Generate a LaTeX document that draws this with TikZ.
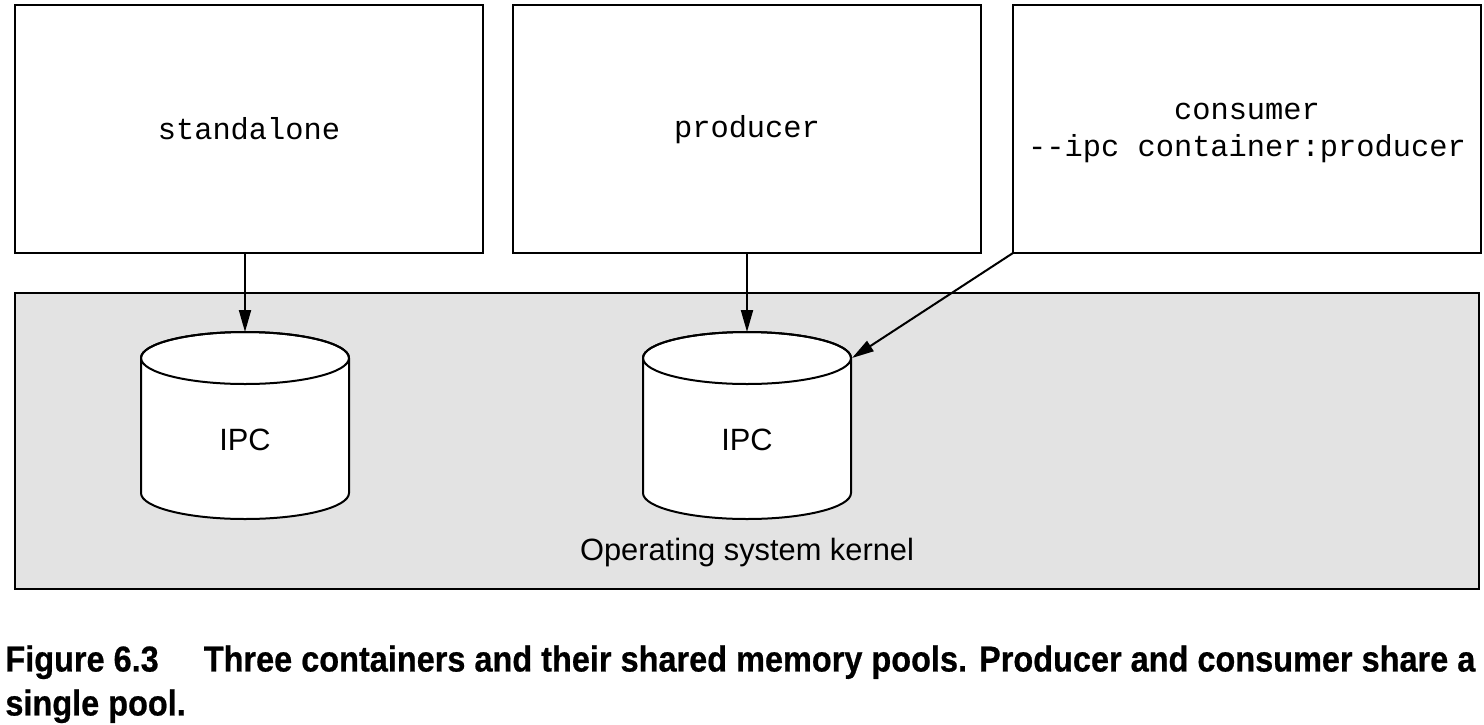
\documentclass[tikz,border=0pt]{standalone}
\usepackage{fontspec}
\setmainfont{Liberation Sans}
\setmonofont{Liberation Mono}
\newfontfamily\capfont[FakeStretch=0.902,FakeBold=0.6]{Liberation Sans}
\usetikzlibrary{arrows.meta}
\begin{document}
\begin{tikzpicture}[x=0.5pt,y=-0.5pt,
  boxst/.style={draw,line width=1pt,fill=white},
  conn/.style={line width=1pt,-{Triangle[length=11pt,width=6pt]}},
  monotext/.style={font=\fontsize{15.2}{18.5}\selectfont\ttfamily,align=center},
  sanstext/.style={font=\fontsize{15.4}{18}\selectfont},
  cyl/.style={draw,line width=1pt,fill=white}]
\useasboundingbox (0,0) rectangle (1484,724);
% kernel area
\draw[line width=1pt,fill=black!11] (15,293) rectangle (1479,589);
\node[sanstext] (kern) at (747,553) {Operating system kernel};
% container boxes
\draw[boxst] (15,5) rectangle (483,253);
\draw[boxst] (513,5) rectangle (981,253);
\draw[boxst] (1013,5) rectangle (1481,253);
\node[monotext] (sa) at (249,129) {standalone};
\node[monotext] (pr) at (747,130) {producer};
\node[monotext] (co) at (1247,133) {consumer\\--ipc container:producer};
\coordinate (saB) at (245,253);
\coordinate (prB) at (747,253);
\coordinate (coB) at (1013,253);
% cylinders
\foreach \cx/\nm in {245/c1,747/c2}{
  \path[cyl] (\cx-104,358) -- (\cx-104,493) arc[start angle=180,end angle=360,x radius=104,y radius=-26] -- (\cx+104,358) arc[start angle=0,end angle=-180,x radius=104,y radius=26] -- cycle;
  \draw[line width=1pt] (\cx-104,358) arc[start angle=180,end angle=360,x radius=104,y radius=-26];
  \draw[line width=1pt] (\cx-104,358) arc[start angle=180,end angle=0,x radius=104,y radius=-26];
}
\node[sanstext] (ipc1) at (245,440) {IPC};
\node[sanstext] (ipc2) at (747,440) {IPC};
\coordinate (c1T) at (245,332);
\coordinate (c2T) at (747,332);
\coordinate (c2R) at (852,358);
% connectors
\draw[conn] (saB) -- (c1T);
\draw[conn] (prB) -- (c2T);
\draw[conn] (coB) -- (c2R);
% caption
\node[anchor=north west,align=left,inner sep=0pt,font=\capfont\bfseries\fontsize{18}{22}\selectfont] (cap) at (5,645)
  {Figure 6.3\quad\ Three containers and their shared memory pools. Producer and consumer share a\\single pool.};
\end{tikzpicture}
\end{document}
